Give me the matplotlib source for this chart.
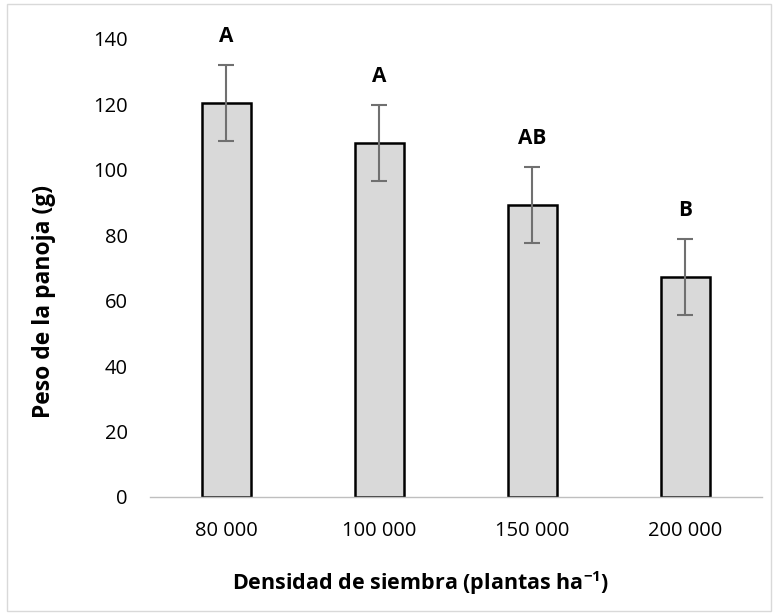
import numpy as np
import matplotlib.pyplot as plt
from matplotlib.patches import Rectangle

# Datos
categorias = ['80 000', '100 000', '150 000', '200 000']
peso = [120.3, 108.2, 89.2, 67.3]
error = [11.6, 11.6, 11.6, 11.6]
letras = ['A', 'A', 'AB', 'B']

plt.rcParams['font.family'] = ['Open Sans', 'DejaVu Sans']
plt.rcParams['mathtext.fontset'] = 'custom'
plt.rcParams['mathtext.rm'] = 'Open Sans'
plt.rcParams['mathtext.bf'] = 'Open Sans:bold'

fig = plt.figure(figsize=(7.76, 6.14), dpi=100)
ax = fig.add_axes([0.193, 0.1906, 0.789, 0.7459])

x = np.arange(len(categorias))
ax.bar(x, peso, width=0.32, color='#D9D9D9', edgecolor='black', linewidth=1.8, zorder=2)
ax.errorbar(x, peso, yerr=error, fmt='none', ecolor='#707070', elinewidth=1.5,
            capsize=6, capthick=1.5, zorder=3)

for xi, p, e, l in zip(x, peso, error, letras):
    ax.text(xi, p + e + 5.5, l, ha='center', va='bottom', fontsize=15, fontweight='bold')

ax.set_xlim(-0.5, 3.5)
ax.set_ylim(0, 140)
ax.set_yticks(range(0, 141, 20))
ax.set_xticks(x)
ax.set_xticklabels(categorias)
ax.tick_params(length=0, labelsize=14.5)
ax.tick_params(axis='y', pad=16)
ax.tick_params(axis='x', pad=17)
for s in ['top', 'right', 'left']:
    ax.spines[s].set_visible(False)
ax.spines['bottom'].set_color('#BFBFBF')
ax.spines['bottom'].set_linewidth(1)

# títulos de ejes
fig.text(44 / 776, 1 - 302 / 614, 'Peso de la panoja (g)', rotation=90, ha='center',
         va='center', fontsize=16.5, fontweight='bold')
fig.text(421 / 776, 1 - 583 / 614, 'Densidad de siembra (plantas ha$^{\\mathbf{-1}}$)',
         ha='center', va='center', fontsize=15.5, fontweight='bold')

# borde del área del gráfico
fig.patches.append(Rectangle((0.009, 0.005), 0.984, 0.988, transform=fig.transFigure,
                             fill=False, edgecolor='#D9D9D9', linewidth=1))

fig.savefig('out.png', dpi=100)
